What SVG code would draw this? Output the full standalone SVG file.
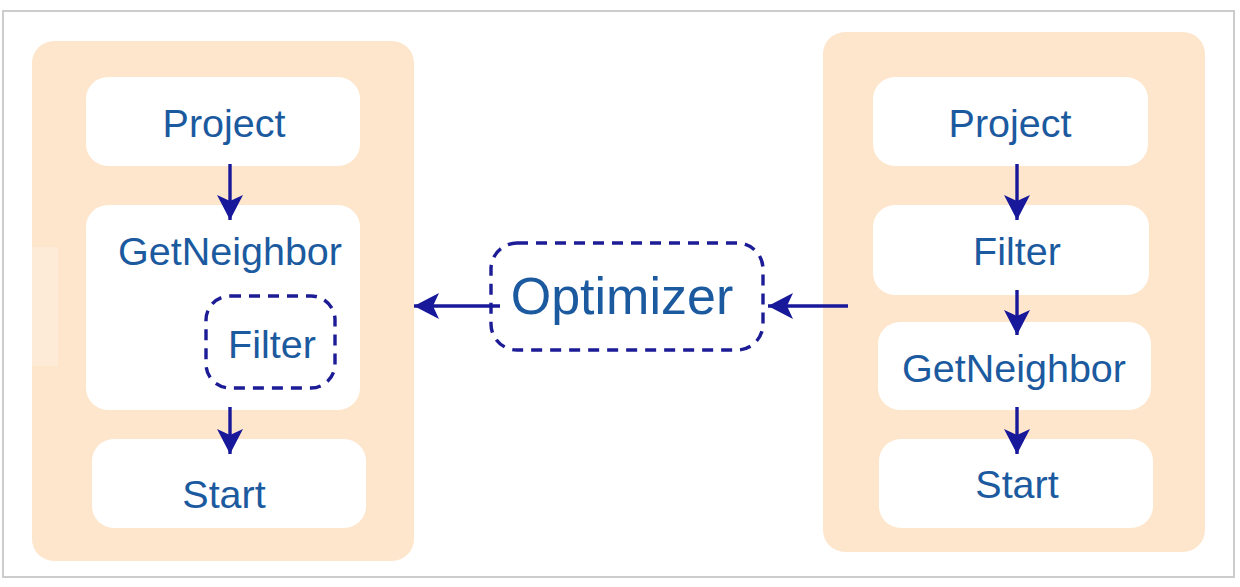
<svg xmlns="http://www.w3.org/2000/svg" width="1240" height="587" viewBox="0 0 1240 587">
<defs>
<style>
.panel{fill:#fee6cc;}
.box{fill:#ffffff;}
.lbl{font-family:"Liberation Sans",Arial,sans-serif;font-size:39.5px;fill:#1c5aa0;text-anchor:middle;}
.dash{fill:none;stroke:#1c1c96;stroke-width:3.4;stroke-dasharray:11 8;}
.conn{fill:none;stroke:#18189a;stroke-width:3.4;}
</style>
<marker id="ah" markerUnits="userSpaceOnUse" markerWidth="30" markerHeight="30" refX="26" refY="14" orient="auto" viewBox="0 0 30 28">
<path d="M26,14 L1,1 L7,14 L1,27 Z" fill="#18189a"/>
</marker>
</defs>
<rect x="0" y="0" width="1240" height="587" fill="#ffffff"/>
<rect x="3" y="11" width="1231" height="566" fill="none" stroke="#cccccc" stroke-width="2"/>

<g id="left-panel">
<rect class="panel" x="32" y="41" width="382" height="520" rx="22"/>
<rect x="32" y="247" width="26" height="119" fill="#feebd7"/>
</g>
<g id="left-project">
<rect class="box" x="86" y="77" width="274" height="89" rx="22"/>
<text class="lbl" x="224" y="137">Project</text>
</g>
<g id="left-getneighbor">
<rect class="box" x="86" y="205" width="274" height="205" rx="22"/>
<text class="lbl" x="230" y="265">GetNeighbor</text>
</g>
<g id="left-filter">
<rect class="dash" x="206" y="296" width="129" height="92" rx="24"/>
<text class="lbl" x="272" y="358">Filter</text>
</g>
<g id="left-start">
<rect class="box" x="92" y="439" width="274" height="89" rx="22"/>
<text class="lbl" x="224" y="508">Start</text>
</g>

<g id="optimizer">
<rect class="dash" x="491" y="243" width="272" height="107" rx="26"/>
<text class="lbl" x="622" y="314" style="font-size:52px">Optimizer</text>
</g>

<g id="right-panel">
<rect class="panel" x="823" y="32" width="382" height="520" rx="22"/>
</g>
<g id="right-project">
<rect class="box" x="873" y="77" width="275" height="89" rx="22"/>
<text class="lbl" x="1010" y="137">Project</text>
</g>
<g id="right-filter">
<rect class="box" x="873" y="205" width="276" height="90" rx="22"/>
<text class="lbl" x="1017" y="265">Filter</text>
</g>
<g id="right-getneighbor">
<rect class="box" x="878" y="322" width="273" height="88" rx="22"/>
<text class="lbl" x="1014" y="382">GetNeighbor</text>
</g>
<g id="right-start">
<rect class="box" x="879" y="439" width="274" height="89" rx="22"/>
<text class="lbl" x="1017" y="498">Start</text>
</g>

<g id="connectors">
<line class="conn" x1="230" y1="164" x2="230" y2="220" marker-end="url(#ah)"/>
<line class="conn" x1="230" y1="407" x2="230" y2="454" marker-end="url(#ah)"/>
<line class="conn" x1="500" y1="306" x2="414" y2="306" marker-end="url(#ah)"/>
<line class="conn" x1="848" y1="306" x2="768" y2="306" marker-end="url(#ah)"/>
<line class="conn" x1="1017" y1="164" x2="1017" y2="220" marker-end="url(#ah)"/>
<line class="conn" x1="1017" y1="290" x2="1017" y2="335" marker-end="url(#ah)"/>
<line class="conn" x1="1017" y1="407" x2="1017" y2="454" marker-end="url(#ah)"/>
</g>
</svg>
